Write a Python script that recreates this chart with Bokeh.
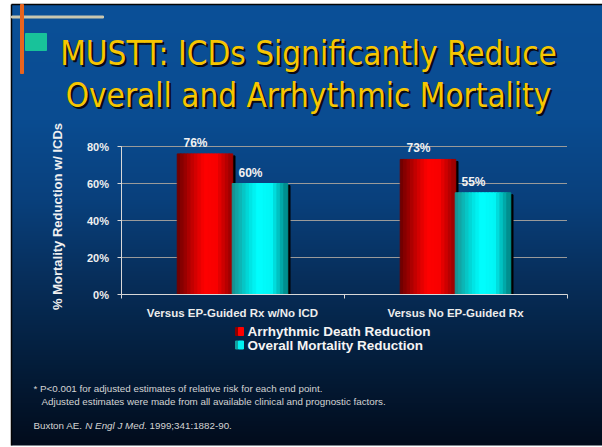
import numpy as np
from bokeh.plotting import figure
from bokeh.models import Range1d, LinearAxis, FixedTicker, NumeralTickFormatter
from bokeh.core.properties import value
from bokeh.embed import file_html
from bokeh.resources import INLINE

# ---------------- data ----------------
TITLE_LINES = ["MUSTT: ICDs Significantly Reduce", "Overall and Arrhythmic Mortality"]
CATEGORIES = ["Versus EP-Guided Rx w/No ICD", "Versus No EP-Guided Rx"]
SERIES = ["Arrhythmic Death  Reduction", "Overall Mortality Reduction"]
ARRHYTHMIC = [0.76, 0.73]
OVERALL = [0.60, 0.55]
PCT_TICKS = [0.0, 0.2, 0.4, 0.6, 0.8]
Y_LABEL = "% Mortality Reduction w/ ICDs"
FOOTNOTES = ["* P<0.001 for adjusted estimates of relative risk for each end point.",
             "Adjusted estimates were made from all available clinical and prognostic factors."]
CITATION = ["Buxton AE. ", "N Engl J Med", ". 1999;341:1882-90."]

# ---------------- layout constants (pixels) ----------------
W, H = 602, 447
def Y(py):
    return H - py

AX_L, AX_R = 120.5, 566.5      # x pixel of category bounds -0.5 and 1.5
AX_B, AX_T = 294.0, 146.0      # y pixel of 0% and 80%
cat_lo, cat_hi = -0.5, 1.5
ppx = (AX_R - AX_L) / (cat_hi - cat_lo)
ppy = (AX_B - AX_T) / 0.8
x_cat = Range1d(cat_lo - AX_L / ppx, cat_hi + (W - AX_R) / ppx)
y_pct = Range1d(-Y(AX_B) / ppy, (H - Y(AX_B)) / ppy)

p = figure(width=W, height=H, x_range=Range1d(0, W), y_range=Range1d(0, H),
           min_border=0, x_axis_location=None, y_axis_location=None,
           toolbar_location=None, output_backend="svg")
p.extra_x_ranges = {"cat": x_cat}
p.extra_y_ranges = {"pct": y_pct}
p.outline_line_color = None
p.background_fill_color = "white"
p.border_fill_color = "white"
p.grid.visible = False

# ---------------- slide background ----------------
SL, ST, SR, SB = 11, 4, 602, 445
stops_y = [4, 120, 200, 280, 360, 445]
stops_c = [(10, 80, 152), (10, 76, 145), (9, 64, 124), (7, 46, 90), (4, 30, 60), (2, 12, 28)]
hgt = SB - ST
py = SB - np.arange(hgt) - 0.5
img = np.empty((hgt, 2), dtype=np.uint32)
view = img.view(dtype=np.uint8).reshape((hgt, 2, 4))
for k in range(3):
    view[:, :, k] = np.interp(py, stops_y, [c[k] for c in stops_c])[:, None].astype(np.uint8)
view[:, :, 3] = 255
p.image_rgba(image=[img], x=SL, y=Y(SB), dw=SR - SL, dh=hgt)
p.segment(x0=[SL, SL], y0=[Y(ST), Y(ST)], x1=[SR, SL], y1=[Y(ST), Y(SB)],
          line_color="#050505", line_width=1.5)

# decorations
p.quad(left=SL, right=103, top=Y(15.5), bottom=Y(17.5), color="#c9c7b0")
p.quad(left=20, right=23, top=Y(ST), bottom=Y(73), color="#e8641e")
p.quad(left=25, right=46, top=Y(33), bottom=Y(50), color="#18c29a")

# title
TFONT = value("DejaVu Sans Condensed")
for i, (line, base) in enumerate(zip(TITLE_LINES, [52.5, 94.5])):
    p.text(x=[308 + 2], y=[Y(base + 2)], text=[line], text_font=TFONT, text_font_size="33px",
           text_align="center", text_baseline="alphabetic", text_color="#0a0a14")
    p.text(x=[308], y=[Y(base)], text=[line], text_font=TFONT, text_font_size="33px",
           text_align="center", text_baseline="alphabetic", text_color="#f7c600")

# ---------------- chart ----------------
FONT = value("Liberation Sans")
p.segment(x0=cat_lo, x1=cat_hi, y0=PCT_TICKS[1:], y1=PCT_TICKS[1:],
          x_range_name="cat", y_range_name="pct", line_color="#9a9a9a", line_width=1)

def lerp_colors(ts, anchors):
    at = [a[0] for a in anchors]
    out = []
    for t in ts:
        rgb = [int(round(np.interp(t, at, [a[1][k] for a in anchors]))) for k in range(3)]
        out.append("#%02x%02x%02x" % tuple(rgb))
    return out

RED_PROFILE = [(0.0, (105, 0, 0)), (0.3, (200, 0, 0)), (0.5, (255, 0, 0)),
               (0.72, (248, 0, 0)), (1.0, (150, 0, 0))]
CYAN_PROFILE = [(0.0, (25, 140, 140)), (0.3, (0, 220, 220)), (0.48, (0, 255, 255)),
                (0.72, (0, 245, 245)), (1.0, (0, 130, 130))]

bw = 55.0 / ppx
N = 16
idx = np.arange(len(CATEGORIES))
for s, (vals, prof) in enumerate([(ARRHYTHMIC, RED_PROFILE), (OVERALL, CYAN_PROFILE)]):
    off = (-0.5 + s) * bw
    # shadow
    p.vbar(x=idx + off + 2.5 / ppx, top=[v - 2.0 / ppy for v in vals], bottom=0, width=bw,
           color="#000000", x_range_name="cat", y_range_name="pct")
    ts = [(j + 0.5) / N for j in range(N)]
    cols = lerp_colors(ts, prof)
    for j in range(N):
        cx = idx + off - bw / 2 + (j + 0.5) * bw / N
        p.vbar(x=cx, top=vals, bottom=0, width=bw / N * 1.15, color=cols[j],
               x_range_name="cat", y_range_name="pct")
    p.text(x=idx + off, y=vals, text=["%d%%" % round(v * 100) for v in vals],
           x_offset=-9.5, y_offset=-11, text_align="center", text_baseline="middle",
           text_font=FONT, text_font_style="bold", text_font_size="12px",
           text_color="#f2f2f2", x_range_name="cat", y_range_name="pct")

yax = LinearAxis(x_range_name="cat", y_range_name="pct", fixed_location=cat_lo,
                 bounds=(PCT_TICKS[0], PCT_TICKS[-1]), ticker=FixedTicker(ticks=PCT_TICKS),
                 formatter=NumeralTickFormatter(format="0%"))
yax.major_tick_out = 4
yax.major_tick_in = 0
yax.minor_tick_out = 0
yax.minor_tick_in = 0
yax.axis_line_color = "#d8d8d8"
yax.major_tick_line_color = "#d8d8d8"
yax.major_label_standoff = 8
yax.major_label_text_font = "Liberation Sans"
yax.major_label_text_font_style = "bold"
yax.major_label_text_font_size = "11px"
yax.major_label_text_color = "#f0f0f0"
p.add_layout(yax, "left")

xax = LinearAxis(x_range_name="cat", y_range_name="pct", fixed_location=0.0,
                 bounds=(cat_lo, cat_hi),
                 ticker=FixedTicker(ticks=list(range(len(CATEGORIES))), minor_ticks=[-0.5, 0.5, 1.5]),
                 major_label_overrides={i: c for i, c in enumerate(CATEGORIES)})
xax.major_tick_out = 0
xax.major_tick_in = 0
xax.minor_tick_out = 4
xax.minor_tick_in = 0
xax.axis_line_color = "#d8d8d8"
xax.minor_tick_line_color = "#d8d8d8"
xax.major_label_standoff = 8
xax.major_label_text_font = "Liberation Sans"
xax.major_label_text_font_style = "bold"
xax.major_label_text_font_size = "11.5px"
xax.major_label_text_color = "#ececec"
p.add_layout(xax, "below")

p.text(x=[57], y=[Y(216)], text=[Y_LABEL], angle=np.pi / 2, text_align="center",
       text_baseline="middle", text_font=FONT, text_font_style="bold",
       text_font_size="13px", text_color="#f0f0f0")

# legend
LEG_DARK = ["#8a0000", "#10a0a0"]
LEG_MAIN = ["#ff0000", "#00f0f0"]
for k, name in enumerate(SERIES):
    cy = 331 + 13.5 * k
    p.quad(left=235, right=238, top=Y(cy - 4), bottom=Y(cy + 4), color=LEG_DARK[k])
    p.quad(left=238, right=243, top=Y(cy - 4), bottom=Y(cy + 4), color=LEG_MAIN[k])
    p.text(x=[247], y=[Y(cy)], text=[name], text_align="left", text_baseline="middle",
           text_font=FONT, text_font_style="bold", text_font_size="13.5px", text_color="#f4f4f4")

# footnotes
p.text(x=[33, 41], y=[Y(388), Y(401)], text=FOOTNOTES, text_align="left", text_baseline="middle",
       text_font=FONT, text_font_size="9.8px", text_color="#d4d4d4")
cx0 = 33
widths = [51.8, 58.8]
xs = [cx0, cx0 + widths[0], cx0 + widths[0] + widths[1]]
styles = ["normal", "italic", "normal"]
for xx, t, st in zip(xs, CITATION, styles):
    p.text(x=[xx], y=[Y(425)], text=[t], text_align="left", text_baseline="middle",
           text_font=FONT, text_font_style=st, text_font_size="9.8px", text_color="#d4d4d4")

open("out.html", "w").write(file_html(p, INLINE))
